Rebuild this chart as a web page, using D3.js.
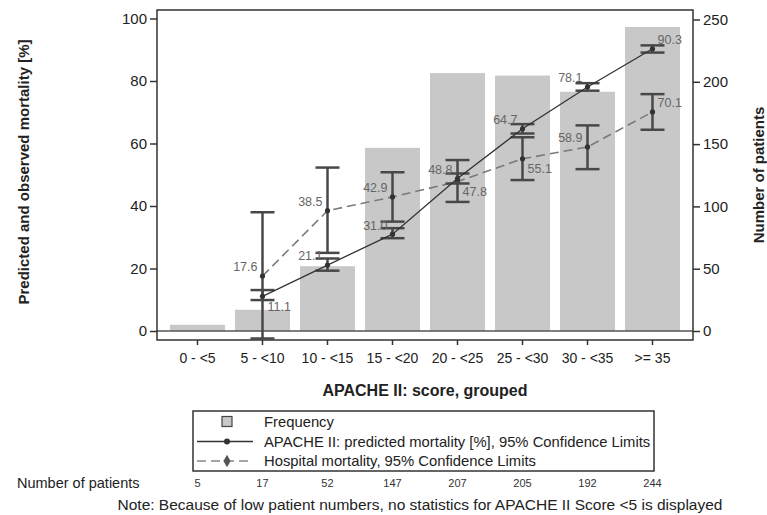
<!DOCTYPE html>
<html>
<head>
<meta charset="utf-8">
<script src="https://cdn.jsdelivr.net/npm/d3@7"></script>
<style>
  body { margin: 0; background: #fff; }
  svg { font-family: "Liberation Sans", Arial, sans-serif; }
</style>
</head>
<body>
<div id="chart"></div>
<script>
// APACHE II score groups
const categories = ['0 - <5', '5 - <10', '10 - <15', '15 - <20', '20 - <25', '25 - <30', '30 - <35', '>= 35'];
const patients = [5, 17, 52, 147, 207, 205, 192, 244];

// predicted mortality (APACHE II), no stats for first group
const predicted = [null, 11.1, 21.1, 31.0, 48.8, 64.7, 78.1, 90.3];
const predictedLow = [null, 9.9, 19.3, 29.7, 47.2, 63.2, 76.9, 89.1];
const predictedHigh = [null, 13.1, 23.2, 32.9, 50.4, 66.2, 79.3, 91.4];

// observed hospital mortality
const hospital = [null, 17.6, 38.5, 42.9, 47.8, 55.1, 58.9, 70.1];
const hospitalLow = [null, -2.4, 25.0, 35.0, 41.3, 48.3, 51.8, 64.4];
const hospitalHigh = [null, 38.0, 52.3, 50.8, 54.7, 62.0, 65.8, 75.8];

const leftTicks = [0, 20, 40, 60, 80, 100];
const rightTicks = [0, 50, 100, 150, 200, 250];

// which side the value labels sit on
const predictedLabelSide = [null, 'right-below', 'left-above', 'left-above', 'left-above', 'left-above', 'left-above', 'right-above'];
const hospitalLabelSide = [null, 'left-above', 'left-above', 'left-above', 'right-below', 'right-below', 'left-above', 'right-above'];

const width = 767, height = 515;
const frame = { left: 157, right: 693, top: 10, bottom: 340 };

const svg = d3.select('#chart').append('svg')
    .attr('width', width)
    .attr('height', height);

const x = d3.scaleBand()
    .domain(categories)
    .range([frame.left, frame.right])
    .paddingInner(0.154)
    .paddingOuter(0.2);

const yL = d3.scaleLinear().domain([0, 100]).range([331, 18.5]);
const yR = d3.scaleLinear().domain([0, 250]).range([331, 19.5]);
const cx = c => x(c) + x.bandwidth() / 2;

// bars (frequency)
svg.append('g').selectAll('rect')
    .data(categories)
    .enter().append('rect')
    .attr('x', d => x(d))
    .attr('width', x.bandwidth())
    .attr('y', (d, i) => yR(patients[i]))
    .attr('height', (d, i) => yR(0) - yR(patients[i]))
    .attr('fill', '#c8c8c8');

// zero reference line
svg.append('line')
    .attr('x1', frame.left).attr('x2', frame.right)
    .attr('y1', yL(0)).attr('y2', yL(0))
    .attr('stroke', '#555').attr('stroke-width', 1.5);

// frame
svg.append('rect')
    .attr('x', frame.left).attr('y', frame.top)
    .attr('width', frame.right - frame.left)
    .attr('height', frame.bottom - frame.top)
    .attr('fill', 'none')
    .attr('stroke', '#333')
    .attr('stroke-width', 1.5);

// left axis
const leftAxis = svg.append('g')
    .attr('transform', `translate(${frame.left},0)`)
    .call(d3.axisLeft(yL).tickValues(leftTicks).tickSize(7).tickPadding(3));
leftAxis.select('.domain').remove();

// right axis
const rightAxis = svg.append('g')
    .attr('transform', `translate(${frame.right},0)`)
    .call(d3.axisRight(yR).tickValues(rightTicks).tickSize(7).tickPadding(3));
rightAxis.select('.domain').remove();

// bottom axis
const bottomAxis = svg.append('g')
    .attr('transform', `translate(0,${frame.bottom})`)
    .call(d3.axisBottom(x).tickSize(5).tickPadding(8));
bottomAxis.select('.domain').remove();

[leftAxis, rightAxis, bottomAxis].forEach(a => {
    a.selectAll('line').attr('stroke', '#333').attr('stroke-width', 1.5);
    a.selectAll('text').attr('fill', '#222').attr('font-family', null);
});
leftAxis.selectAll('text').style('font-size', '15px');
rightAxis.selectAll('text').style('font-size', '15px');
bottomAxis.selectAll('text').style('font-size', '14px');

// axis titles
svg.append('text')
    .attr('transform', `translate(29,172) rotate(-90)`)
    .attr('text-anchor', 'middle')
    .style('font-size', '15px').style('font-weight', 'bold').attr('fill', '#222')
    .text('Predicted and observed mortality [%]');

svg.append('text')
    .attr('transform', `translate(764,175) rotate(-90)`)
    .attr('text-anchor', 'middle')
    .style('font-size', '15px').style('font-weight', 'bold').attr('fill', '#222')
    .text('Number of patients');

svg.append('text')
    .attr('x', (frame.left + frame.right) / 2)
    .attr('y', 396)
    .attr('text-anchor', 'middle')
    .style('font-size', '16px').style('font-weight', 'bold').attr('fill', '#222')
    .text('APACHE II: score, grouped');

// series drawing
function drawSeries(values, low, high, dashed, lineColor, labelSide) {
    const pts = categories.map((c, i) => ({ c, v: values[i], lo: low[i], hi: high[i], side: labelSide[i] }))
        .filter(d => d.v !== null);

    const g = svg.append('g');
    const capHalf = 12;

    // error bars
    const eb = g.selectAll('.eb').data(pts).enter().append('g')
        .attr('stroke', '#484848').attr('stroke-width', 2.5);
    eb.append('line')
        .attr('x1', d => cx(d.c)).attr('x2', d => cx(d.c))
        .attr('y1', d => yL(d.lo)).attr('y2', d => yL(d.hi));
    eb.append('line')
        .attr('x1', d => cx(d.c) - capHalf).attr('x2', d => cx(d.c) + capHalf)
        .attr('y1', d => yL(d.lo)).attr('y2', d => yL(d.lo));
    eb.append('line')
        .attr('x1', d => cx(d.c) - capHalf).attr('x2', d => cx(d.c) + capHalf)
        .attr('y1', d => yL(d.hi)).attr('y2', d => yL(d.hi));

    // connecting line
    const line = d3.line().x(d => cx(d.c)).y(d => yL(d.v));
    g.append('path')
        .datum(pts)
        .attr('d', line)
        .attr('fill', 'none')
        .attr('stroke', lineColor)
        .attr('stroke-width', dashed ? 1.6 : 1.3)
        .attr('stroke-dasharray', dashed ? '9,5' : null);

    // markers
    g.selectAll('circle').data(pts).enter().append('circle')
        .attr('cx', d => cx(d.c)).attr('cy', d => yL(d.v))
        .attr('r', 2.6).attr('fill', '#333');

    // value labels
    g.selectAll('.lbl').data(pts).enter().append('text')
        .attr('x', d => cx(d.c) + (d.side.startsWith('left') ? -5 : 5))
        .attr('y', d => yL(d.v) + (d.side.endsWith('above') ? -9 : 10))
        .attr('dy', '0.35em')
        .attr('text-anchor', d => d.side.startsWith('left') ? 'end' : 'start')
        .style('font-size', '12.5px')
        .attr('fill', '#666')
        .text(d => d.v.toFixed(1));
}

drawSeries(hospital, hospitalLow, hospitalHigh, true, '#7a7a7a', hospitalLabelSide);
drawSeries(predicted, predictedLow, predictedHigh, false, '#333', predictedLabelSide);

// legend
const legend = svg.append('g');
legend.append('rect')
    .attr('x', 193).attr('y', 411).attr('width', 461).attr('height', 60)
    .attr('fill', '#fff').attr('stroke', '#333').attr('stroke-width', 1.5);

const legendItems = [
    'Frequency',
    'APACHE II: predicted mortality [%], 95% Confidence Limits',
    'Hospital mortality, 95% Confidence Limits'
];
const legendY = [421.5, 441.5, 461];

legend.append('rect')
    .attr('x', 222).attr('y', legendY[0] - 5).attr('width', 10).attr('height', 10)
    .attr('fill', '#c8c8c8').attr('stroke', '#444').attr('stroke-width', 1.2);

legend.append('line')
    .attr('x1', 197).attr('x2', 253).attr('y1', legendY[1]).attr('y2', legendY[1])
    .attr('stroke', '#333').attr('stroke-width', 1.3);
legend.append('circle')
    .attr('cx', 227).attr('cy', legendY[1]).attr('r', 3).attr('fill', '#333');

legend.append('line')
    .attr('x1', 197).attr('x2', 253).attr('y1', legendY[2]).attr('y2', legendY[2])
    .attr('stroke', '#888').attr('stroke-width', 1.6).attr('stroke-dasharray', '9,5');
legend.append('path')
    .attr('d', d3.symbol().type(d3.symbolDiamond).size(45))
    .attr('transform', `translate(227,${legendY[2]})`)
    .attr('fill', '#555');

legend.selectAll('.lt').data(legendItems).enter().append('text')
    .attr('x', 264)
    .attr('y', (d, i) => legendY[i])
    .attr('dy', '0.35em')
    .style('font-size', '14.8px')
    .attr('fill', '#222')
    .text(d => d);

// patient count row
svg.append('text')
    .attr('x', 17).attr('y', 483).attr('dy', '0.35em')
    .style('font-size', '14.5px').attr('fill', '#222')
    .text('Number of patients');

svg.append('g').selectAll('text')
    .data(categories)
    .enter().append('text')
    .attr('x', d => cx(d))
    .attr('y', 483).attr('dy', '0.35em')
    .attr('text-anchor', 'middle')
    .style('font-size', '11px').attr('fill', '#333')
    .text((d, i) => patients[i]);

svg.append('text')
    .attr('x', 420).attr('y', 505).attr('dy', '0.35em')
    .attr('text-anchor', 'middle')
    .style('font-size', '15.5px').attr('fill', '#222')
    .text('Note: Because of low patient numbers, no statistics for APACHE II Score <5 is displayed');
</script>
</body>
</html>
